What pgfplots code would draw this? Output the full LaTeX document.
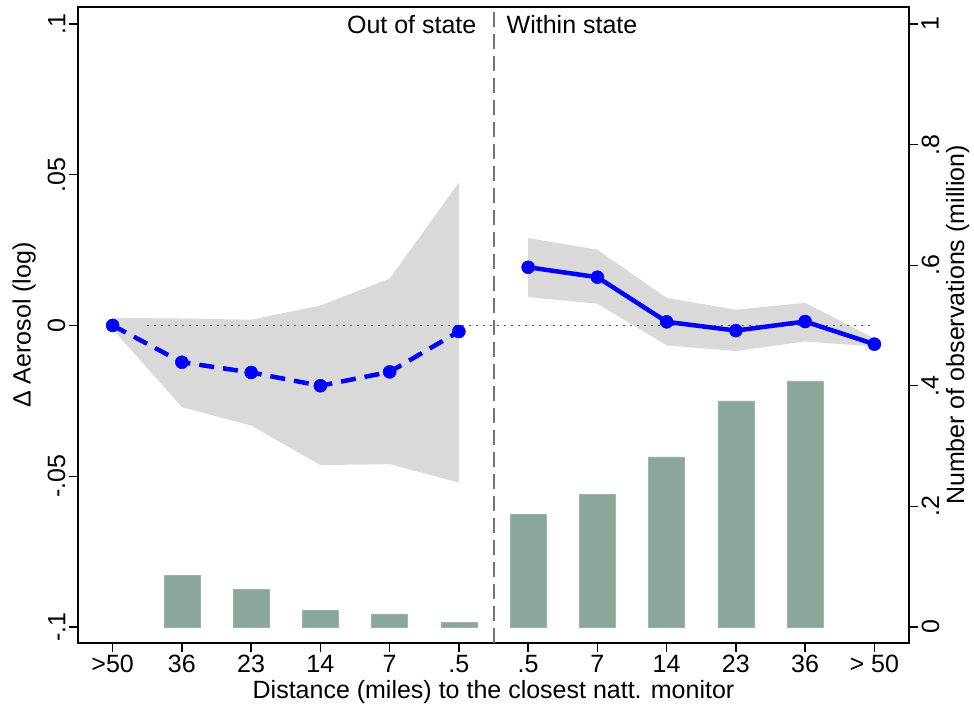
\documentclass[border=0pt]{standalone}
\usepackage{pgfplots}
\usepackage{pgfplotstable}
\pgfplotsset{compat=1.18}
\usepgfplotslibrary{fillbetween}
\usepackage{fontspec}
\setmainfont{Liberation Sans}
\definecolor{bandgray}{RGB}{217,217,217}
\definecolor{barfill}{RGB}{139,166,155}
\definecolor{baredge}{RGB}{155,180,170}
\definecolor{vline}{RGB}{115,115,115}
\definecolor{dotline}{RGB}{90,90,90}

\pgfplotstableread{
x y lo hi
0 0 -0.0012 0.0025
1 -0.0122 -0.0271 0.0023
2 -0.0156 -0.0332 0.0019
3 -0.0200 -0.0463 0.0066
4 -0.0154 -0.0460 0.0155
5 -0.0020 -0.0521 0.0474
}\outstate

\pgfplotstableread{
x y lo hi
6 0.0193 0.0094 0.0290
7 0.0160 0.0072 0.0251
8 0.0012 -0.0066 0.0091
9 -0.0017 -0.0085 0.0052
10 0.0013 -0.0053 0.0075
11 -0.0062 -0.0070 -0.0043
}\withinstate

\pgfplotstableread{
x n
1 0.086
2 0.0625
3 0.028
4 0.0216
5 0.008
6 0.187
7 0.220
8 0.282
9 0.375
10 0.408
}\obs

\begin{document}
\begin{tikzpicture}[font=\fontsize{25}{30}\selectfont]
\pgfplotsset{
  common/.style={
    width=831pt, height=636pt, scale only axis,
    at={(0pt,0pt)}, anchor=south west,
    xmin=-0.5, xmax=11.5,
    tick align=outside, major tick length=9pt,
    axis line style={line width=1.5pt},
    every tick/.style={black, line width=1.3pt},
  }
}
\begin{axis}[common,
  ymin=-0.1053, ymax=0.1056,
  xtick={0,...,11},
  xticklabels={{>50},36,23,14,7,.5,.5,7,14,23,36,{> 50}},
  xtick pos=bottom, ytick pos=left,
  ytick={-0.1,-0.05,0,0.05,0.1},
  yticklabels={-.1,-.05,0,.05,.1},
  yticklabel style={rotate=90, anchor=south},
  xlabel={Distance (miles) to the closest natt. monitor},
  ylabel={Δ Aerosol (log)},
  ylabel shift=5pt,
  clip=false,
]
\addplot[draw=none, name path=ohi, forget plot] table[x=x,y=hi]{\outstate};
\addplot[draw=none, name path=olo, forget plot] table[x=x,y=lo]{\outstate};
\addplot[bandgray, draw=none] fill between[of=ohi and olo];
\addplot[draw=none, name path=whi, forget plot] table[x=x,y=hi]{\withinstate};
\addplot[draw=none, name path=wlo, forget plot] table[x=x,y=lo]{\withinstate};
\addplot[bandgray, draw=none] fill between[of=whi and wlo];
\addplot[dotline, line width=1.2pt, dash pattern=on 1.3pt off 5.7pt] coordinates {(0.5,0) (11,0)};
\addplot[vline, line width=2pt, dash pattern=on 15pt off 7pt] coordinates {(5.5,-0.1053) (5.5,0.1056)};
\addplot[blue, line width=4.5pt, dash pattern=on 15pt off 9pt, mark=*, mark size=6.5pt, mark options={solid, fill=blue, draw=blue, line width=0.5pt}] table[x=x,y=y]{\outstate};
\addplot[blue, line width=4.5pt, mark=*, mark size=6.5pt, mark options={solid, fill=blue, draw=blue, line width=0.5pt}] table[x=x,y=y]{\withinstate};
\node[anchor=north east, inner sep=0pt, xshift=-17pt, yshift=-8pt] at (axis cs:5.5,0.1056) {Out of state};
\node[anchor=north west, inner sep=0pt, xshift=13pt, yshift=-8pt] at (axis cs:5.5,0.1056) {Within state};
\end{axis}
\begin{axis}[common,
  ymin=-0.0265, ymax=1.0282,
  axis y line*=right, axis x line=none,
  ytick={0,0.2,0.4,0.6,0.8,1},
  yticklabels={0,.2,.4,.6,.8,1},
  yticklabel style={rotate=90, anchor=north},
  ylabel={Number of observations (million)},
]
\addplot[ybar, bar width=0.52, fill=barfill, draw=baredge, line width=0.6pt] table[x=x,y=n]{\obs};
\end{axis}
\pgfresetboundingbox
\useasboundingbox (-78pt,-63pt) rectangle (896pt,643pt);
\end{tikzpicture}
\end{document}
